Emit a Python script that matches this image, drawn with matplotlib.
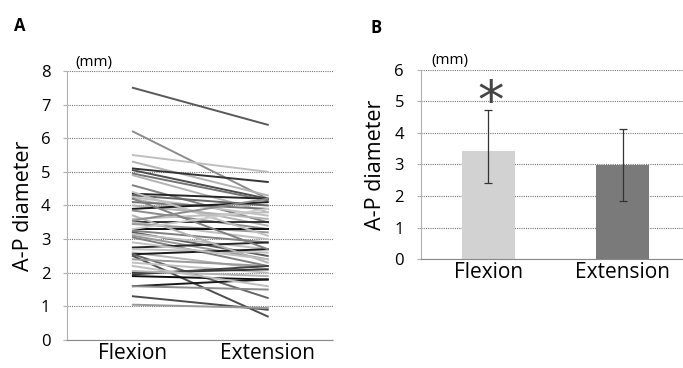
import matplotlib
matplotlib.use("Agg")
import matplotlib.pyplot as plt

plt.rcParams['font.family'] = ['Open Sans', 'DejaVu Sans']

categories = ["Flexion", "Extension"]

# panel A: each subject, flexion -> extension (mm)
flexion = [7.5, 6.2, 5.5, 5.3, 5.1, 5.05, 4.95, 4.9, 4.6, 4.35,
           4.3, 4.25, 4.2, 4.1, 4.0, 3.9, 3.85, 3.5, 3.5, 3.45,
           3.3, 3.25, 3.2, 3.15, 3.1, 3.05, 2.75, 2.7, 2.6, 2.55,
           2.55, 2.5, 2.4, 2.3, 2.0, 1.95, 1.9, 2.05, 1.6, 1.6,
           1.3, 1.05, 3.6, 4.4, 3.7, 2.2, 4.2, 3.3, 2.9, 3.55]
extension = [6.4, 4.2, 5.0, 4.3, 4.7, 4.2, 4.15, 3.8, 3.5, 4.2,
             4.0, 3.7, 3.4, 3.9, 3.6, 4.1, 3.3, 3.5, 3.0, 3.2,
             3.3, 2.9, 2.5, 2.7, 2.4, 2.2, 2.9, 2.6, 2.1, 2.7,
             1.25, 0.7, 2.2, 2.0, 2.1, 2.2, 1.8, 1.9, 1.8, 1.5,
             0.9, 0.95, 3.8, 3.1, 2.3, 1.6, 2.7, 3.9, 2.4, 4.2]
shades = [0.35, 0.55, 0.75, 0.7, 0.2, 0.3, 0.45, 0.7, 0.5, 0.15,
          0.4, 0.75, 0.7, 0.45, 0.7, 0.1, 0.55, 0.2, 0.75, 0.6,
          0.05, 0.5, 0.35, 0.75, 0.6, 0.5, 0.15, 0.75, 0.7, 0.1,
          0.4, 0.3, 0.6, 0.75, 0.2, 0.25, 0.05, 0.7, 0.1, 0.55,
          0.3, 0.6, 0.75, 0.75, 0.7, 0.75, 0.5, 0.8, 0.75, 0.55]

# panel B: mean with error bars
means = [3.43, 2.98]
err_low = [1.01, 1.13]
err_high = [1.3, 1.15]
bar_colors = ["#d2d2d2", "#7a7a7a"]

fig = plt.figure(figsize=(6.83, 3.68), dpi=100)

def style(ax):
    ax.yaxis.grid(True, linestyle=(0, (1, 1)), color="#777777", linewidth=0.8)
    ax.set_axisbelow(True)
    for s in ["top", "right"]:
        ax.spines[s].set_visible(False)
    ax.spines["left"].set_color("#b0b0b0")
    ax.spines["bottom"].set_color("#888888")
    ax.spines["bottom"].set_linestyle((0, (1, 1)))
    ax.tick_params(axis="y", length=3, color="#b0b0b0", labelsize=12, pad=9)
    ax.tick_params(axis="x", length=0, labelsize=15, pad=2)

# ---- A
ax1 = fig.add_axes([0.098, 0.0761, 0.389, 0.731])
for f, e, g in zip(flexion, extension, shades):
    ax1.plot([0, 1], [f, e], color=str(g), linewidth=1.4)
ax1.set_xlim(-0.489, 1.481)
ax1.set_ylim(0, 8)
ax1.set_yticks(range(0, 9))
ax1.set_xticks([0, 1])
ax1.set_xticklabels(categories)
style(ax1)
ax1.set_ylabel("A-P diameter", fontsize=15.5, labelpad=5)
ax1.text(0.03, 1.02, "(mm)", transform=ax1.transAxes, fontsize=11)
fig.text(0.021, 0.915, "A", fontsize=12, fontweight="bold")

# ---- B
ax2 = fig.add_axes([0.616, 0.296, 0.384, 0.514])
ax2.bar([0, 1], means, width=0.394, color=bar_colors,
        yerr=[err_low, err_high], error_kw=dict(ecolor="#333333", elinewidth=0.9, capsize=3, capthick=0.9))
ax2.set_xlim(-0.502, 1.446)
ax2.set_ylim(0, 6)
ax2.set_yticks(range(0, 7))
ax2.set_xticks([0, 1])
ax2.set_xticklabels(categories)
style(ax2)
ax2.set_ylabel("A-P diameter", fontsize=15.5, labelpad=6)
ax2.text(0.04, 1.03, "(mm)", transform=ax2.transAxes, fontsize=11)
ax2.text(0.02, 4.95, "*", fontsize=38, ha="center", va="center", color="#444444",
         family="DejaVu Sans")
fig.text(0.543, 0.91, "B", fontsize=12, fontweight="bold")

fig.savefig("out.png", dpi=100)
